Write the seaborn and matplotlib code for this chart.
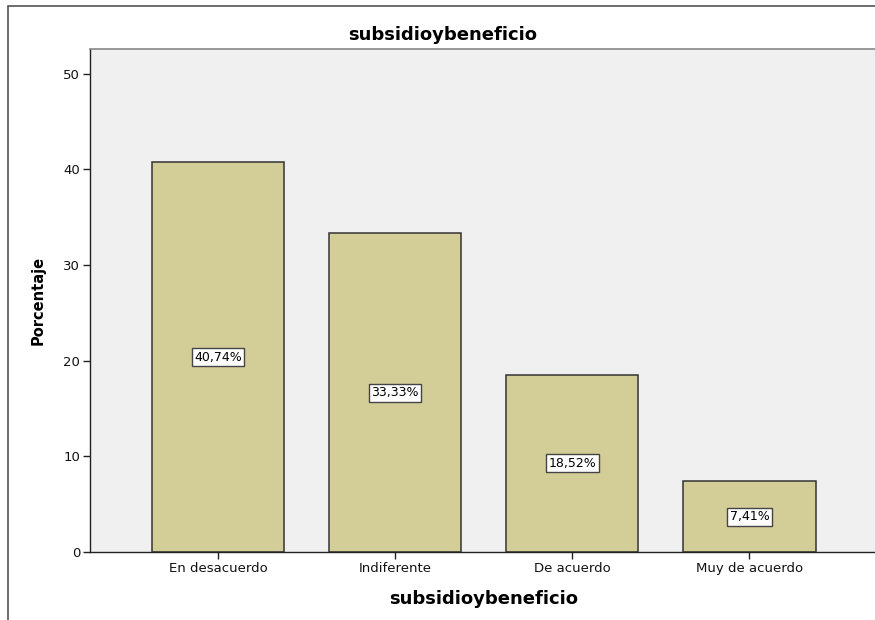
import matplotlib
matplotlib.use("Agg")
import matplotlib.pyplot as plt
from matplotlib.patches import Rectangle
import seaborn as sns
import pandas as pd

categories = ["En desacuerdo", "Indiferente", "De acuerdo", "Muy de acuerdo"]
percentages = [40.74, 33.33, 18.52, 7.41]
value_labels = ["40,74%", "33,33%", "18,52%", "7,41%"]
y_ticks = [0, 10, 20, 30, 40, 50]

df = pd.DataFrame({"categoria": categories, "porcentaje": percentages})

sns.set_style("white")
plt.rcParams["font.family"] = ["DejaVu Sans"]

W, H = 875, 620
fig = plt.figure(figsize=(W / 100, H / 100), dpi=100)
fig.patch.set_facecolor("white")

# outer chart frame
fig.patches.append(Rectangle((8 / W, -0.1), 1.2, (H - 6) / H + 0.1,
                             transform=fig.transFigure, fill=False,
                             edgecolor="#555555", linewidth=1.2))

left, right, top, bottom = 90, 877.5, 49, 552
ax = fig.add_axes([left / W, (H - bottom) / H, (right - left) / W, (bottom - top) / H])
ax.set_facecolor("#F0F0F0")

sns.barplot(data=df, x="categoria", y="porcentaje", order=categories,
            color="#D3CE97", saturation=1, width=0.746,
            edgecolor="#333333", linewidth=1.1, ax=ax)

for i, (v, lab) in enumerate(zip(percentages, value_labels)):
    ax.text(i, v / 2, lab, ha="center", va="center", fontsize=9, color="black",
            bbox=dict(boxstyle="square,pad=0.2", facecolor="white",
                      edgecolor="#444444", linewidth=1.0))

ax.set_xlim(-0.723, 3.723)
ax.set_ylim(0, 52.6)
ax.set_yticks(y_ticks)
ax.set_yticklabels([str(t) for t in y_ticks])

ax.spines["right"].set_visible(False)
ax.spines["top"].set_color("#888888")
ax.spines["top"].set_linewidth(1.2)
for s in ["left", "bottom"]:
    ax.spines[s].set_color("#222222")
    ax.spines[s].set_linewidth(1.0)

ax.tick_params(axis="both", which="major", direction="out", length=5, width=1,
               color="#222222", labelsize=9.5, labelcolor="#111111", pad=2,
               left=True, bottom=True)

ax.set_xlabel("subsidioybeneficio", fontsize=13, fontweight="bold",
              labelpad=11, color="black")
ax.set_ylabel("Porcentaje", fontsize=10.5, fontweight="bold",
              labelpad=13, color="black")

fig.text(443 / W, 1 - 35 / H, "subsidioybeneficio", ha="center", va="center",
         fontsize=13, fontweight="bold", color="black")

fig.savefig("out.png", dpi=100)
